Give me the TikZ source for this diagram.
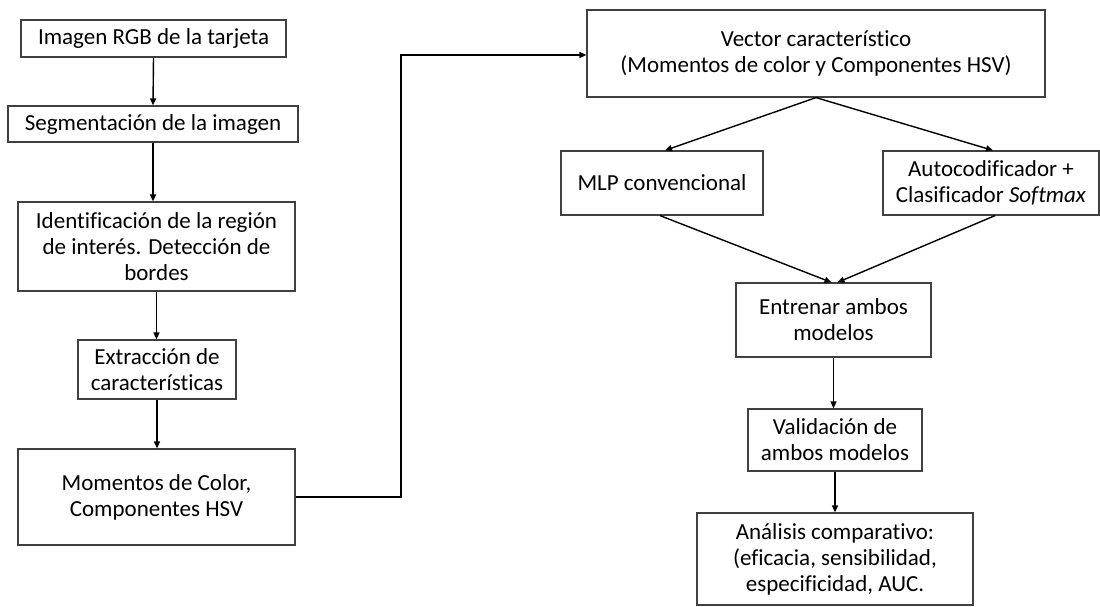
\documentclass[tikz,border=0pt]{standalone}
\usepackage{fontspec}
\setmainfont[Ligatures=NoCommon]{Carlito}
\usetikzlibrary{arrows.meta}
\definecolor{boxgray}{HTML}{404040}
\begin{document}
\begin{tikzpicture}[x=1pt,y=-1pt,
  box/.style={draw=boxgray, line width=1.2pt, align=center, inner sep=0pt, font=\fontsize{23}{26}\selectfont, text=black},
  arr/.style={-{Triangle[length=7pt,width=6pt]}, line width=1.4pt, draw=black}]
\useasboundingbox (0,0) rectangle (1100,606);
\node[box, minimum width=265, minimum height=37] (a) at (153.5,38.5) {Imagen RGB de la tarjeta};
\node[box, minimum width=290, minimum height=36] (b) at (153,124) {Segmentación de la imagen};
\node[box, minimum width=277, minimum height=89] (c) at (156.5,246.5) {Identificación de la región\\de interés. Detección de\\bordes};
\node[box, minimum width=158, minimum height=59] (d) at (157,369.5) {Extracción de\\características};
\node[box, minimum width=277, minimum height=96] (e) at (156.5,497) {Momentos de Color,\\Componentes HSV};
\node[box, minimum width=458, minimum height=87] (v) at (816,53.5) {Vector característico\\(Momentos de color y Componentes HSV)};
\node[box, minimum width=202, minimum height=64] (mlp) at (662,183) {MLP convencional};
\node[box, minimum width=216, minimum height=64] (auto) at (991,183) {Autocodificador +\\Clasificador \textit{Softmax}};
\node[box, minimum width=195, minimum height=74] (ent) at (833.5,320) {Entrenar ambos\\modelos};
\node[box, minimum width=174, minimum height=62] (val) at (835,440) {Validación de\\ambos modelos};
\node[box, minimum width=276, minimum height=92] (ana) at (835,559) {Análisis comparativo:\\(eficacia, sensibilidad,\\especificidad, AUC.};
\coordinate (k1) at (401,497);
\coordinate (k2) at (401,55);
\draw[arr] (a.south) -- (b.north);
\draw[arr] (b.south) -- (b.south |- c.north);
\draw[arr] (c.south) -- (c.south |- d.north);
\draw[arr] (d.south) -- (d.south |- e.north);
\draw[arr] (e.east |- k1) -- (k1) -- (k2) -- (k2 -| v.west);
\draw[arr] (v.south) -- ([xshift=3pt]mlp.north);
\draw[arr] (v.south) -- ([xshift=2pt]auto.north);
\draw[arr] ([xshift=-2pt]mlp.south) -- ([xshift=-2pt]ent.north);
\draw[arr] ([xshift=4pt]auto.south) -- ([xshift=4pt]ent.north);
\draw[arr] (ent.south) -- (ent.south |- val.north);
\draw[arr] (val.south) -- (val.south |- ana.north);
\end{tikzpicture}
\end{document}
